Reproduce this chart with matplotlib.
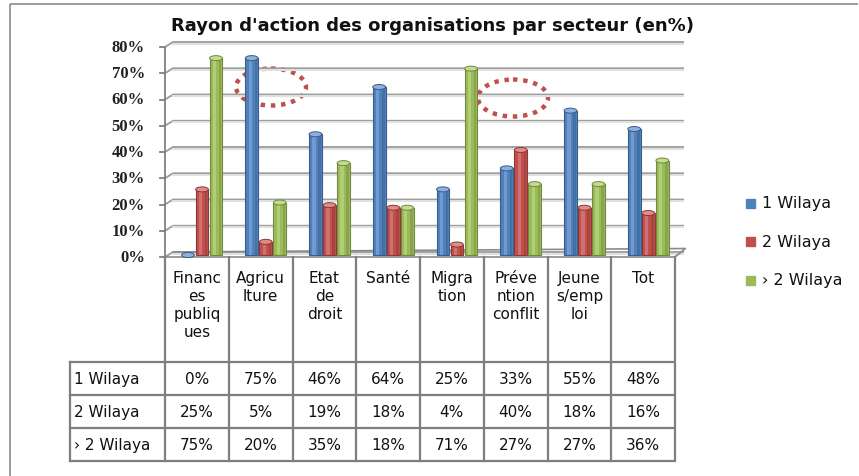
import matplotlib.pyplot as plt
import matplotlib.transforms as mtransforms
from matplotlib.patches import Ellipse, Rectangle
import numpy as np

plt.rcParams['font.family'] = ['DejaVu Sans']

header_lines = [['Financ', 'es', 'publiq', 'ues'], ['Agricu', 'lture'], ['Etat', 'de', 'droit'],
                ['Santé'], ['Migra', 'tion'], ['Préve', 'ntion', 'conflit'], ['Jeune', 's/emp', 'loi'],
                ['Tot']]
series_names = ['1 Wilaya', '2 Wilaya', '› 2 Wilaya']
un_wilaya = [0, 75, 46, 64, 25, 33, 55, 48]
deux_wilaya = [25, 5, 19, 18, 4, 40, 18, 16]
plus_wilaya = [75, 20, 35, 18, 71, 27, 27, 36]
colors = ['#4F81BD', '#C0504D', '#9BBB59']
dark = ['#385D8A', '#8C3836', '#71893F']
light = ['#8FB0DC', '#E08C8A', '#C4DC8E']

W, H = 859, 477
fig = plt.figure(figsize=(W / 100, H / 100), dpi=100)

# overlay in pixel coordinates for frame / table
ov = fig.add_axes([0, 0, 1, 1])
ov.set_xlim(0, W)
ov.set_ylim(H, 0)
ov.axis('off')

x0, x1, y0, y1 = 165, 675, 258, 48
ax = fig.add_axes([x0 / W, (H - y0) / H, (x1 - x0) / W, (y0 - y1) / H])
ax.set_xlim(-0.5, 7.5)
ax.set_ylim(0, 0.8)
ax.axis('off')
ax.patch.set_alpha(0)

pxx = 8 / (x1 - x0)
pxy = 0.8 / (y0 - y1)
dx, dy = 8 * pxx, 5 * pxy

# frame of the chart object
ov.plot([10, 10], [5, 477], color='#8a8a8a', lw=1.2, solid_capstyle='butt')
ov.plot([10, 858], [5, 5], color='#8a8a8a', lw=1.2, solid_capstyle='butt')

# back wall gridlines
ticks = np.arange(0, 0.81, 0.1)
for t in ticks:
    ax.plot([-0.5, -0.5 + dx, 7.5 + dx], [t, t + dy, t + dy], color='#9a9a9a', lw=1.3, clip_on=False)
    ax.plot([-0.5 + dx, 7.5 + dx], [t + dy - 1.5 * pxy] * 2, color='#e0e0e0', lw=1.5, clip_on=False)
    ax.plot([-0.5 - 5 * pxx, -0.5], [t, t], color='#808080', lw=1.3, clip_on=False)
    ax.text(-0.5 - 20 * pxx, t, f'{int(round(t * 100))}%', ha='right', va='center',
            fontsize=12, fontweight='bold', family='Liberation Serif', color='#222222')
ax.plot([-0.5, -0.5], [0, 0.8], color='#808080', lw=1.3, clip_on=False)
# floor
ax.plot([-0.5, 7.5, 7.5 + dx * 1.3, -0.5 + dx], [0, 0, dy * 1.7, dy], color='#8a8a8a', lw=1.2, clip_on=False)

# cylinder-like bars
offsets = [-0.14, 0.08, 0.30]
bw = 0.2
base = 2 * pxy
cap = 5 * pxy
for k, vals in enumerate([un_wilaya, deux_wilaya, plus_wilaya]):
    xs = np.arange(len(vals)) + offsets[k]
    v = np.array(vals) / 100
    ax.bar(xs, v, bw, bottom=base, color=colors[k], edgecolor=dark[k], lw=0.8, clip_on=False, zorder=3)
    ax.bar(xs - bw * 0.12, v, bw * 0.25, bottom=base, color=light[k], alpha=0.55, lw=0, clip_on=False, zorder=4)
    ax.bar(xs + bw * 0.32, v, bw * 0.2, bottom=base, color=dark[k], alpha=0.45, lw=0, clip_on=False, zorder=4)
    for xi, vi in zip(xs, v):
        ax.add_patch(Ellipse((xi, base + vi), bw, cap, facecolor=light[k], edgecolor=dark[k], lw=0.7,
                             zorder=5, clip_on=False))

ax.text(3.5 + 0.2, 0.8 + 22 * pxy, "Rayon d'action des organisations par secteur (en%)",
        ha='center', va='center', fontsize=13, fontweight='semibold', color='#111111')

# red dotted circles drawn over the chart
for cx, cy in [(271, 88), (513, 99)]:
    ov.add_patch(Ellipse((cx, cy), 70, 37, fill=False, edgecolor='#C0504D', lw=3.2,
                         linestyle=(0, (1, 1.3)), zorder=10))

# data table
tr = mtransforms.blended_transform_factory(ax.transData, ov.transData)
gc = '#7f7f7f'
row_y = [363, 396, 429, 462]
lbl_x = 70
edges = np.arange(-0.5, 8.0, 1.0)
for e in edges:
    ax.plot([e, e], [y0, row_y[-1]], transform=tr, color=gc, lw=1.6, clip_on=False)
for ry in row_y:
    ov.plot([lbl_x, x1 - 2], [ry, ry], color=gc, lw=1.6)
ov.plot([lbl_x, lbl_x], [row_y[0], row_y[-1]], color=gc, lw=1.6)

for i, lines in enumerate(header_lines):
    for j, s in enumerate(lines):
        ax.text(i, 279 + 18 * j, s, transform=tr, ha='center', va='center', fontsize=11, color='#111111')

for r, (name, vals) in enumerate(zip(series_names, [un_wilaya, deux_wilaya, plus_wilaya])):
    cy = (row_y[r] + row_y[r + 1]) / 2
    ov.text(lbl_x + 4, cy, name, ha='left', va='center', fontsize=11, color='#111111')
    for i, val in enumerate(vals):
        ax.text(i, cy, f'{val}%', transform=tr, ha='center', va='center', fontsize=11, color='#111111')

# legend
for k, name in enumerate(series_names):
    ly = 204 + 38.5 * k
    ov.add_patch(Rectangle((746, ly - 4.5), 9, 9, color=colors[k]))
    ov.text(762, ly, name, ha='left', va='center', fontsize=11.5, color='#111111')

fig.savefig('out.png', dpi=100)
